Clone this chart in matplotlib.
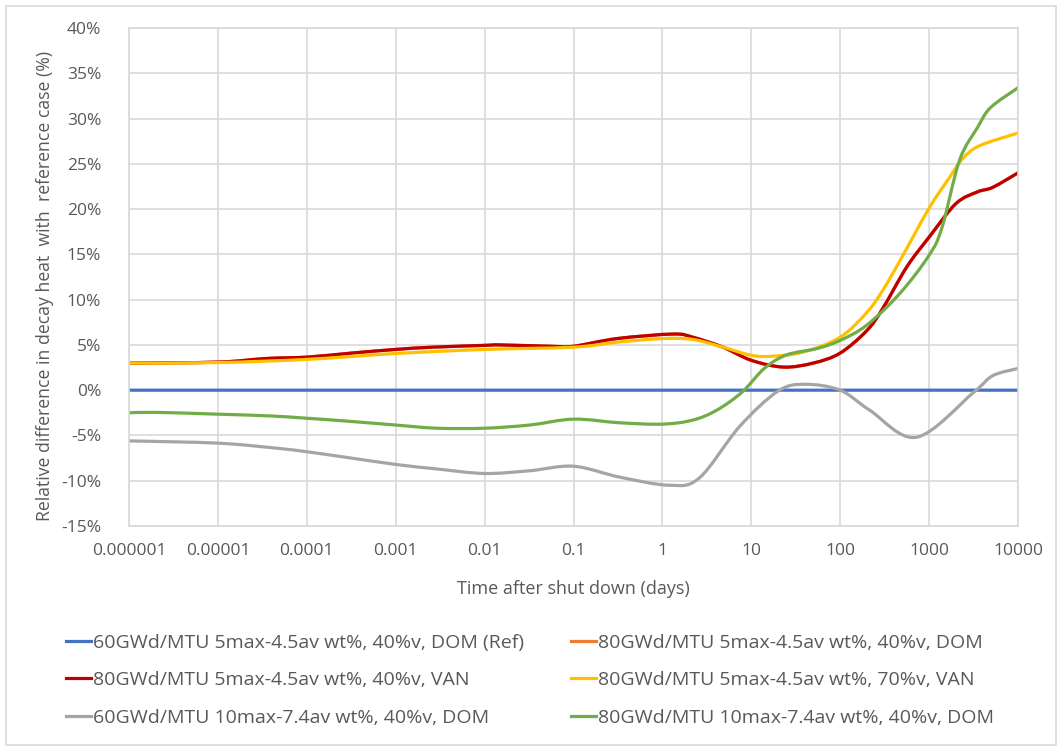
import numpy as np
import matplotlib
matplotlib.use("Agg")
import matplotlib.pyplot as plt
from matplotlib.patches import Rectangle, PathPatch
from matplotlib.path import Path
from matplotlib.lines import Line2D
from matplotlib.ticker import FixedLocator, FuncFormatter

# %% Data (time after shut down in days, relative difference in %)

labels = [
    "60GWd/MTU 5max-4.5av wt%, 40%v, DOM (Ref)",
    "80GWd/MTU 5max-4.5av wt%, 40%v, DOM",
    "80GWd/MTU 5max-4.5av wt%, 40%v, VAN",
    "80GWd/MTU 5max-4.5av wt%, 70%v, VAN",
    "60GWd/MTU 10max-7.4av wt%, 40%v, DOM",
    "80GWd/MTU 10max-7.4av wt%, 40%v, DOM",
]
colors = ["#4472C4", "#ED7D31", "#C00000", "#FFC000", "#A5A5A5", "#70AD47"]

ref_t = [1e-6, 1e4]
ref_v = [0.0, 0.0]

van40_t = [1e-6, 1e-5, 3.5e-5, 1e-4, 3.2e-4, 1e-3, 2.6e-3, 1e-2, 1.5e-2, 5.5e-2, 0.1,
           0.31, 1.32, 2.2, 4.8, 10, 23, 50, 100, 200, 300, 560, 1000,
           2000, 3500, 5200, 10000]
van40_v = [3.0, 3.1, 3.5, 3.65, 4.1, 4.5, 4.75, 4.95, 5.0, 4.85, 4.85,
           5.7, 6.2, 5.85, 4.75, 3.3, 2.55, 3.0, 4.1, 6.6, 9.0, 13.6, 16.9,
           20.6, 21.9, 22.4, 24.0]

# hidden under the VAN 40%v curve
dom40_t = van40_t
dom40_v = van40_v

van70_t = [1e-6, 1e-5, 1e-4, 1e-3, 1e-2, 0.1, 0.31, 1.0, 2.2, 4.8, 10,
           17, 38, 100, 200, 300, 470, 1000, 1700, 2400, 3700, 10000]
van70_v = [3.0, 3.05, 3.4, 4.05, 4.5, 4.75, 5.3, 5.7, 5.6, 4.75, 3.85,
           3.75, 4.2, 5.85, 8.6, 11.0, 14.3, 20.1, 23.5, 25.6, 27.0, 28.4]

hf60_t = [1e-6, 1e-5, 4.5e-5, 1e-4, 2.7e-4, 1e-3, 2.9e-3, 1e-2, 3.2e-2, 0.1, 0.33,
          1.2, 2.6, 7.4, 20, 40, 100, 214, 720, 3200, 5200, 10000]
hf60_v = [-5.6, -5.85, -6.4, -6.8, -7.4, -8.2, -8.7, -9.2, -8.9, -8.4, -9.6,
          -10.5, -9.7, -4.0, -0.1, 0.65, 0.0, -2.2, -5.2, -0.2, 1.6, 2.4]

hf80_t = [1e-6, 2e-6, 1e-5, 4e-5, 1e-4, 2.7e-4, 1e-3, 2.9e-3, 1e-2, 3.2e-2, 0.1, 0.33,
          1.0, 2.2, 4.1, 7.9, 14, 25, 55, 100, 200, 470, 1000, 1400, 2200,
          3500, 4900, 10000]
hf80_v = [-2.5, -2.45, -2.65, -2.85, -3.1, -3.4, -3.85, -4.2, -4.2, -3.85, -3.2, -3.6,
          -3.75, -3.3, -2.2, -0.2, 2.4, 3.9, 4.6, 5.5, 7.2, 10.7, 14.9, 18.0, 25.4,
          29.0, 31.2, 33.4]

series = [(ref_t, ref_v), (dom40_t, dom40_v), (van40_t, van40_v),
          (van70_t, van70_v), (hf60_t, hf60_v), (hf80_t, hf80_v)]

x_ticks = [1e-6, 1e-5, 1e-4, 1e-3, 1e-2, 1e-1, 1, 10, 100, 1000, 10000]
x_tick_labels = ["0.000001", "0.00001", "0.0001", "0.001", "0.01", "0.1",
                 "1", "10", "100", "1000", "10000"]
y_ticks = list(range(-15, 41, 5))


def smooth_path(t, v):
    # spreadsheet-style smoothed line: cubic Bezier through the points,
    # control points built in log10(t) space
    p = np.column_stack([np.log10(t), v])
    n = len(p)
    verts = [p[0]]
    codes = [Path.MOVETO]
    for i in range(n - 1):
        p0 = p[max(i - 1, 0)]
        p1, p2 = p[i], p[i + 1]
        p3 = p[min(i + 2, n - 1)]
        c1 = p1 + (p2 - p0) / 6
        c2 = p2 - (p3 - p1) / 6
        verts += [c1, c2, p2]
        codes += [Path.CURVE4] * 3
    verts = np.array(verts)
    verts[:, 0] = 10 ** verts[:, 0]
    return Path(verts, codes)


# %% Plot

plt.rcParams["font.family"] = ["Open Sans", "DejaVu Sans"]
txt = "#595959"
grid = "#D9D9D9"

fig = plt.figure(figsize=(10.62, 7.49), dpi=100)
ax = fig.add_axes([129 / 1062, 1 - 526 / 749, (1018 - 129) / 1062, (526 - 28) / 749])

ax.set_xscale("log")
ax.set_xlim(1e-6, 1e4)
ax.set_ylim(-15, 40)

handles = []
for (t, v), c, lab in zip(series, colors, labels):
    ax.add_patch(PathPatch(smooth_path(t, v), fill=False, edgecolor=c, lw=2.3,
                           capstyle="round"))
    handles.append(Line2D([], [], color=c, lw=2.3, label=lab))

ax.xaxis.set_major_locator(FixedLocator(x_ticks))
ax.xaxis.set_minor_locator(FixedLocator([]))
ax.set_xticklabels(x_tick_labels)
ax.set_yticks(y_ticks)
ax.yaxis.set_major_formatter(FuncFormatter(lambda v, p: f"{v:.0f}%"))

ax.grid(True, color=grid, lw=1.2)
ax.set_axisbelow(True)
for s in ax.spines.values():
    s.set_color(grid)
    s.set_linewidth(1.2)
ax.tick_params(length=0, labelsize=12.5, colors=txt)
ax.tick_params(axis="y", pad=20)
ax.tick_params(axis="x", pad=12)

ax.set_xlabel("Time after shut down (days)", fontsize=13, color=txt, labelpad=15)
fig.text(45 / 1062, 1 - 286 / 749, "Relative difference in decay heat  with  reference case (%)",
         rotation=90, ha="center", va="center", fontsize=12.7, color=txt)

# row-major legend order for a 2-column layout
order = [0, 2, 4, 1, 3, 5]
leg = fig.legend([handles[i] for i in order], [labels[i] for i in order],
                 loc="upper left", bbox_to_anchor=(58 / 1062, 1 - 626 / 749), ncol=2,
                 frameon=False, fontsize=14, handlelength=1.3, handletextpad=0.1,
                 columnspacing=2.4, labelspacing=1.0, borderaxespad=0)
for t in leg.get_texts():
    t.set_color(txt)

# chart area border
fig.patches.append(Rectangle((6 / 1062, 4 / 749), 1 - 12 / 1062, 1 - 10 / 749,
                             transform=fig.transFigure, fill=False,
                             edgecolor=grid, lw=1.2))

fig.savefig("out.png", dpi=100)
